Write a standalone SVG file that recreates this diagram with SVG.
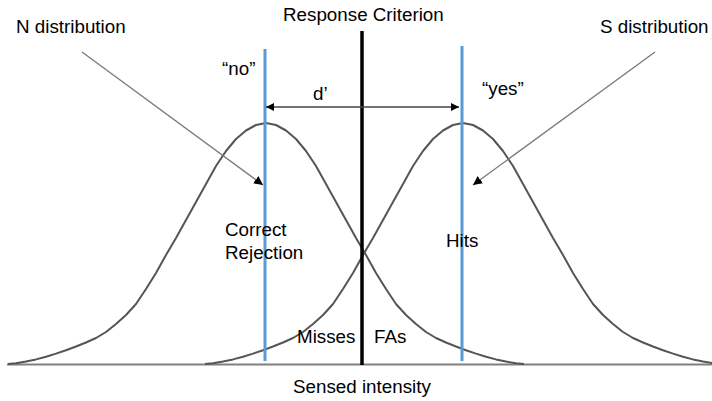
<svg xmlns="http://www.w3.org/2000/svg" width="712" height="401" viewBox="0 0 712 401">
<style>
text{font-family:"Liberation Sans",Arial,sans-serif;font-size:18.8px;fill:#000}
.curve{fill:none;stroke:#555;stroke-width:2;stroke-linejoin:round}
.blue{stroke:#5b9bd5;stroke-width:3}
.ptr{stroke:#7a7a7a;stroke-width:1.3;fill:none}
.dp{stroke:#444;stroke-width:1.5;fill:none}
</style>
<defs>
<marker id="ah" viewBox="0 0 10 10" refX="10" refY="5" markerWidth="8" markerHeight="8" markerUnits="userSpaceOnUse" orient="auto-start-reverse">
<path d="M0,0 L10,5 L0,10 z" fill="#000"/>
</marker>
<marker id="ah2" viewBox="0 0 10 10" refX="10" refY="5" markerWidth="9" markerHeight="9" markerUnits="userSpaceOnUse" orient="auto">
<path d="M0,0 L10,5 L0,10 z" fill="#000"/>
</marker>
</defs>
<rect width="712" height="401" fill="#fff"/>
<g id="axis">
<line x1="7" y1="364.5" x2="712" y2="364.5" stroke="#808080" stroke-width="2"/>
</g>
<g id="n-curve">
<path class="curve" d="M8,364 L16,363.2 L26,361.6 L36,359.4 L46,356.7 L56,353.6 L66,350.2 L76,346.5 L86,342.5 L96,338 L106,332 L116,324 L126,315 L136,304 L146,289 L156,273 L166,255 L176,238 L186,220 L196,202 L206,184 L216,166 L226,151 L236,139 L246,130.5 L256,125 L266,123 L276,125 L286,130.5 L296,139 L306,151 L316,166 L326,184 L336,202 L346,220 L356,238 L366,255 L376,273 L386,289 L396,304 L406,315 L416,324 L426,332 L436,338 L446,342.5 L456,346.5 L466,350.2 L476,353.6 L486,356.7 L496,359.4 L506,361.6 L516,363.2 L524,364"/>
</g>
<g id="s-curve">
<path class="curve" d="M205,364 L213,363.2 L223,361.6 L233,359.4 L243,356.7 L253,353.6 L263,350.2 L273,346.5 L283,342.5 L293,338 L303,332 L313,324 L323,315 L333,304 L343,289 L353,273 L363,255 L373,238 L383,220 L393,202 L403,184 L413,166 L423,151 L433,139 L443,130.5 L453,125 L463,123 L473,125 L483,130.5 L493,139 L503,151 L513,166 L523,184 L533,202 L543,220 L553,238 L563,255 L573,273 L583,289 L593,304 L603,315 L613,324 L623,332 L633,338 L643,342.5 L653,346.5 L663,350.2 L673,353.6 L683,356.7 L693,359.4 L703,361.6 L713,363.2 L721,364"/>
</g>
<g id="no-line">
<line class="blue" x1="265" y1="49" x2="265" y2="361"/>
</g>
<g id="yes-line">
<line class="blue" x1="462" y1="46" x2="462" y2="361"/>
</g>
<g id="criterion">
<line x1="362" y1="31" x2="362" y2="365" stroke="#000" stroke-width="3.5"/>
<text x="283" y="21">Response Criterion</text>
</g>
<g id="labels">
<text x="16" y="33">N distribution</text>
<text x="600" y="33">S distribution</text>
<text x="222" y="75">“no”</text>
<text x="482" y="95">“yes”</text>
<text x="313" y="100">d’</text>
<text x="225" y="236">Correct</text>
<text x="225" y="259">Rejection</text>
<text x="446" y="247">Hits</text>
<text x="297" y="343">Misses</text>
<text x="374" y="343">FAs</text>
<text x="293" y="393">Sensed intensity</text>
</g>
<g id="connectors">
<line class="dp" x1="266" y1="107" x2="459" y2="107" marker-start="url(#ah)" marker-end="url(#ah)"/>
<line class="ptr" x1="82" y1="52" x2="263" y2="185" marker-end="url(#ah2)"/>
<line class="ptr" x1="655" y1="52" x2="473" y2="185" marker-end="url(#ah2)"/>
</g>
</svg>
